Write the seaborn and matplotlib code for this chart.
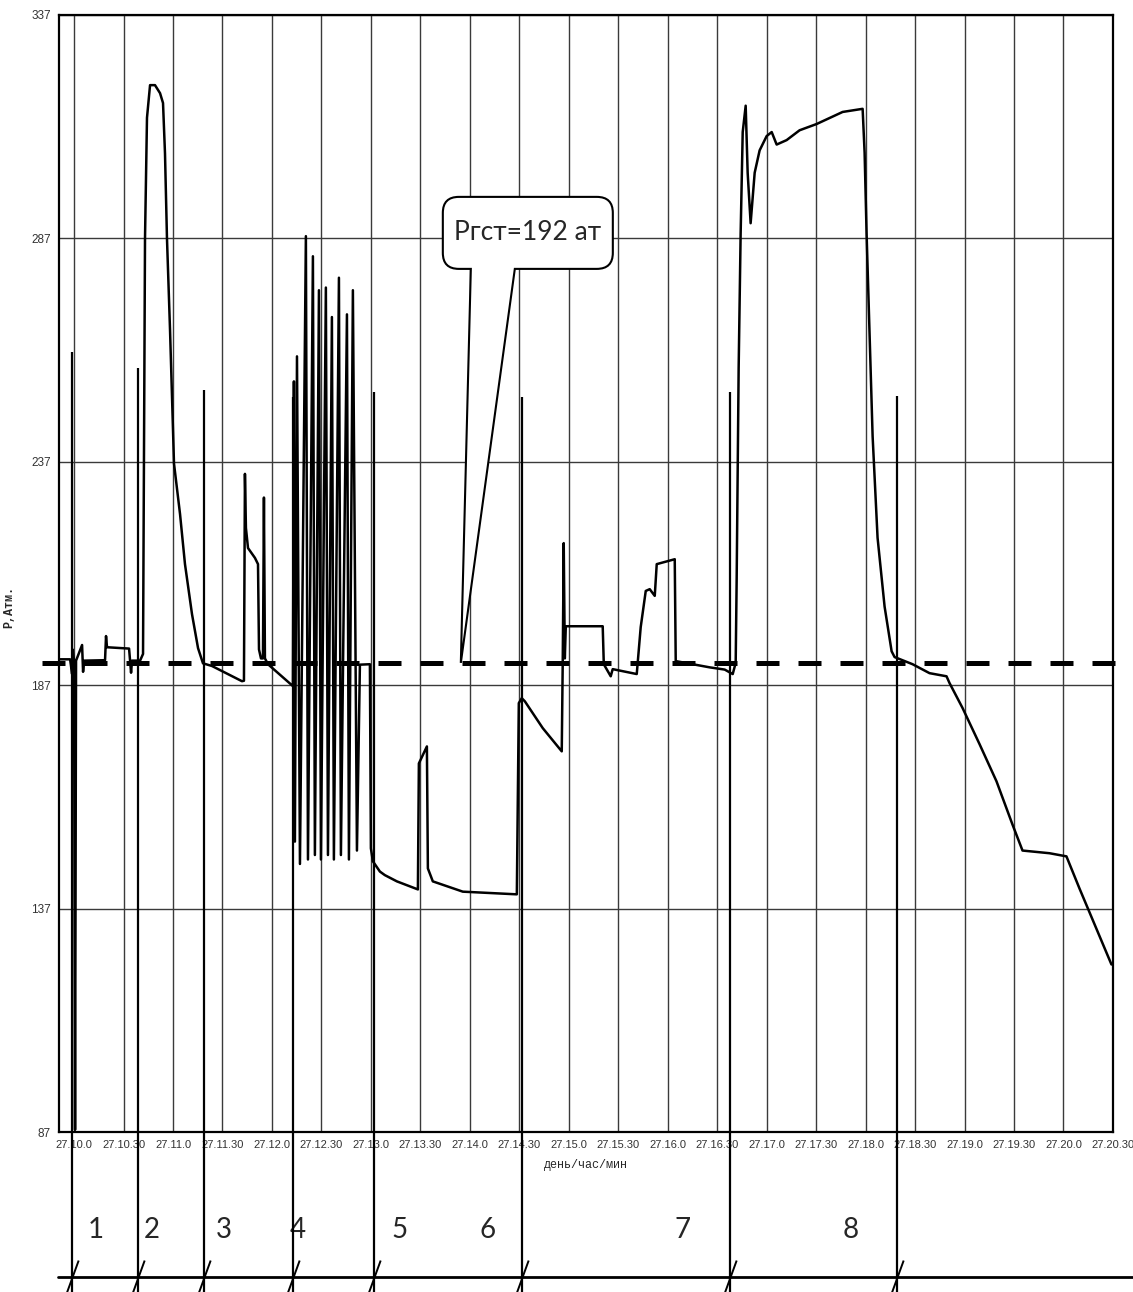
import matplotlib

matplotlib.use("Agg")
import matplotlib.pyplot as plt
import matplotlib.transforms as mtransforms
from matplotlib.path import Path
from matplotlib.patches import PathPatch
from matplotlib.ticker import FixedLocator
import numpy as np
import pandas as pd
import seaborn as sns

# ── данные: время (часы, 27 число) и давление, атм ──
time_h = [
    9.848, 9.960, 9.980, 9.985, 10.0, 10.010, 10.020, 10.081, 10.091, 10.101,
    10.313, 10.323, 10.333, 10.556, 10.566, 10.576, 10.586, 10.667, 10.697,
    10.717, 10.737, 10.768, 10.818, 10.869, 10.899, 10.919, 10.939, 10.970,
    11.010, 11.071, 11.121, 11.192, 11.253, 11.303, 11.394, 11.697, 11.717,
    11.727, 11.737, 11.758, 11.828, 11.859, 11.869, 11.889, 11.909, 11.919,
    11.929, 11.960, 12.202,
    12.212, 12.222, 12.232, 12.253, 12.283, 12.343, 12.364, 12.414, 12.434,
    12.475, 12.495, 12.545, 12.566, 12.606, 12.626, 12.677, 12.697, 12.758,
    12.778, 12.818, 12.859, 12.889, 12.990,
    13.000, 13.020, 13.091, 13.141, 13.263, 13.475, 13.485, 13.566, 13.576,
    13.626, 13.929, 14.475, 14.495, 14.525, 14.556, 14.737, 14.929, 14.939,
    14.949, 14.960, 14.970, 15.343, 15.354, 15.424, 15.444, 15.687, 15.727,
    15.778, 15.818, 15.869, 15.889, 16.071, 16.081, 16.424, 16.576, 16.657,
    16.687, 16.697, 16.717, 16.737, 16.758, 16.788, 16.808, 16.838, 16.879,
    16.929, 17.000, 17.051, 17.101, 17.202, 17.333, 17.505, 17.768, 17.970,
    17.990, 18.010, 18.040, 18.071, 18.121, 18.192, 18.263, 18.293, 18.475,
    18.646, 18.818, 18.848, 18.980, 19.152, 19.323, 19.485, 19.586, 19.859,
    20.030, 20.162, 20.333, 20.485,
]
pressure = [
    192.8, 192.8, 189.5, 195.0, 192.5, 87.5, 192.5, 196.0, 190.0, 192.5,
    192.6, 198.0, 195.5, 195.2, 192.5, 189.8, 192.5, 192.5, 194.0,
    287.0, 314.0, 321.3, 321.3, 319.5, 317.3, 306.0, 287.0, 266.4,
    236.6, 225.3, 214.1, 202.9, 195.3, 191.9, 191.3, 187.9, 188.0,
    234.3, 222.2, 217.7, 215.5, 214.1, 195.0, 193.0, 193.0, 229.0,
    193.0, 191.7, 187.0,
    186.8, 255.0, 152.0, 260.6, 147.0, 287.5, 148.0, 283.0, 149.0,
    275.4, 148.0, 276.0, 149.0, 269.4, 148.0, 278.2, 149.0, 270.0,
    148.0, 275.4, 150.0, 191.6, 191.7,
    150.5, 147.6, 145.3, 144.5, 143.1, 141.3, 169.5, 173.3, 146.0,
    143.1, 140.8, 140.2, 183.0, 184.1, 183.4, 177.4, 172.2, 192.4,
    218.8, 193.0, 200.2, 200.2, 191.7, 189.0, 190.6, 189.5, 200.0,
    208.1, 208.5, 207.0, 214.1, 215.2, 192.4, 191.0, 190.5, 189.5,
    192.0, 211.0, 258.0, 288.0, 310.8, 316.7, 301.7, 290.4, 301.7,
    306.7, 309.9, 310.8, 308.0, 309.0, 311.2, 312.6, 315.3, 316.0,
    306.2, 288.1, 265.4, 242.7, 220.0, 204.6, 194.6, 193.3, 191.7,
    189.7, 189.0, 187.5, 181.9, 173.8, 165.5, 155.8, 150.0, 149.4,
    148.7, 141.5, 132.5, 124.5,
]

p_static = 192  # Ргст
callout_hour = 13.909
callout_text = "Ргст=192 ат"

tick_hours = [10.0, 10.5, 11.0, 11.5, 12.0, 12.5, 13.0, 13.5, 14.0, 14.5, 15.0,
              15.5, 16.0, 16.5, 17.0, 17.5, 18.0, 18.5, 19.0, 19.5, 20.0, 20.5]
tick_labels = ["27.10.0", "27.10.30", "27.11.0", "27.11.30", "27.12.0",
               "27.12.30", "27.13.0", "27.13.30", "27.14.0", "27.14.30",
               "27.15.0", "27.15.30", "27.16.0", "27.16.30", "27.17.0",
               "27.17.30", "27.18.0", "27.18.30", "27.19.0", "27.19.30",
               "27.20.0", "27.20.30"]
y_ticks = [87, 137, 187, 237, 287, 337]

# границы этапов
stage_hours = [9.980, 10.646, 11.313, 12.212, 13.030, 14.525, 16.626, 18.313]
stage_tops = [261.5, 257.9, 253.1, 251.4, 252.7, 251.4, 252.7, 251.8]
stage_names = ["1", "2", "3", "4", "5", "6", "7", "8"]
stage_label_hours = [10.222, 10.788, 11.515, 12.263, 13.293, 14.182, 16.152,
                     17.848]

df = pd.DataFrame({"t": time_h, "p": pressure})

sns.set_style("white")
plt.rcParams["font.family"] = ["Liberation Sans Narrow", "Liberation Sans",
                               "DejaVu Sans"]

fig = plt.figure(figsize=(11.33, 12.92), dpi=100)
ax = fig.add_axes([0.0521, 0.1238, 0.9302, 0.8646])

sns.lineplot(data=df, x="t", y="p", color="black", lw=1.8, sort=False,
             estimator=None, ax=ax, zorder=4)

ax.set_xlim(9.848, 20.5)
ax.set_ylim(87, 337)
ax.set_xticks(tick_hours)
ax.set_xticklabels(tick_labels, fontsize=8)
ax.set_yticks(y_ticks)
ax.set_yticklabels([str(v) for v in y_ticks], fontsize=8.5)
ax.yaxis.set_minor_locator(FixedLocator(list(range(97, 337, 10))))
ax.xaxis.set_minor_locator(FixedLocator(list(np.arange(10.0, 20.5, 0.1))))
ax.tick_params(which="major", direction="out", length=3, width=1,
               colors="#333333", pad=3)
ax.tick_params(which="minor", direction="out", length=2, width=0.8,
               colors="#777777")
ax.grid(True, which="major", color="#3a3a3a", lw=1.0)
for s in ax.spines.values():
    s.set_color("black")
    s.set_linewidth(1.6)

ax.set_xlabel("день/час/мин", fontsize=8.5, family=["Liberation Mono"],
              labelpad=6)
ax.set_ylabel("Р,Атм.", fontsize=8.5, family=["Liberation Mono"],
              fontweight="bold")
ax.yaxis.set_label_coords(-0.042, 0.47)

# линия Ргст
ax.plot([9.677, 20.535], [p_static, p_static], color="black", lw=3.6,
        dashes=(4.6, 3.8), clip_on=False, zorder=6)

# вертикальные границы этапов до низа рисунка
ax.vlines(stage_hours, 48, stage_tops, color="black", lw=1.6,
          clip_on=False, zorder=5)
ax.plot([9.838, 20.70], [54.5, 54.5], color="black", lw=2.0,
        clip_on=False, zorder=5)
ax.plot(stage_hours, [54.5] * len(stage_hours), ls="none",
        marker=(2, 0, -20), ms=26, mew=1.4, mec="black", clip_on=False,
        zorder=6)
for h, name in zip(stage_label_hours, stage_names):
    ax.text(h, 65, name, fontsize=20, family=["Lato", "DejaVu Sans"],
            ha="center", va="center", clip_on=False)

# выноска Ргст
L, R, B, T, r = -0.18, 1.52, 3.94, 4.66, 0.16
tl, tr_ = 0.10, 0.54
verts = [
    (0, 0), (tl, B), (L + r, B), (L, B), (L, B + r), (L, T - r), (L, T),
    (L + r, T), (R - r, T), (R, T), (R, T - r), (R, B + r), (R, B),
    (R - r, B), (tr_, B), (0, 0),
]
codes = [
    Path.MOVETO, Path.LINETO, Path.LINETO, Path.CURVE3, Path.CURVE3,
    Path.LINETO, Path.CURVE3, Path.CURVE3, Path.LINETO, Path.CURVE3,
    Path.CURVE3, Path.LINETO, Path.CURVE3, Path.CURVE3, Path.LINETO,
    Path.CLOSEPOLY,
]
trans = fig.dpi_scale_trans + mtransforms.ScaledTranslation(
    callout_hour, p_static, ax.transData)
ax.add_patch(PathPatch(Path(verts, codes), transform=trans,
                       facecolor="white", edgecolor="black", lw=1.5,
                       zorder=7, clip_on=False))
ax.text(0.67, 4.30, callout_text, transform=trans, fontsize=19,
        family=["Lato", "DejaVu Sans"], ha="center", va="center", zorder=8)

fig.savefig("out.png", dpi=100)
